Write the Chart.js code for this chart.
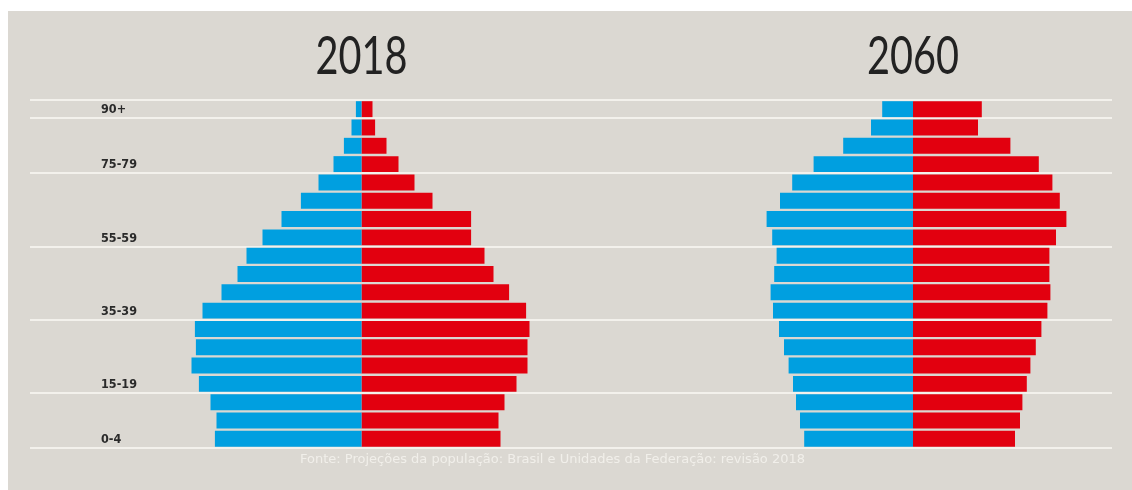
<!DOCTYPE html>
<html>
<head>
<meta charset="utf-8">
<script src="https://cdn.jsdelivr.net/npm/chart.js@4"></script>
<style>
  body { margin: 0; background: #fff; }
  #panel { position: absolute; left: 8px; top: 11px; width: 1124px; height: 479px; background: #dbd8d2; }
</style>
</head>
<body>
<div id="panel"><canvas id="pyramid"></canvas></div>
<script>
// age groups, top to bottom
const ages = ['90+', '85-89', '80-84', '75-79', '70-74', '65-69', '60-64', '55-59', '50-54',
  '45-49', '40-44', '35-39', '30-34', '25-29', '20-24', '15-19', '10-14', '5-9', '0-4'];
const shownAges = ['90+', '75-79', '55-59', '35-39', '15-19', '0-4'];

// population in millions
const men2018 = [0.28, 0.50, 0.88, 1.40, 2.15, 3.03, 4.00, 4.95, 5.75, 6.20, 7.00, 7.95, 8.33, 8.28, 8.50, 8.13, 7.55, 7.25, 7.33];
const women2018 = [0.55, 0.68, 1.25, 1.85, 2.65, 3.55, 5.48, 5.48, 6.15, 6.60, 7.38, 8.23, 8.40, 8.30, 8.30, 7.75, 7.15, 6.85, 6.95];
const men2060 = [1.54, 2.10, 3.49, 4.97, 6.04, 6.65, 7.32, 7.04, 6.82, 6.94, 7.12, 7.00, 6.70, 6.45, 6.22, 6.00, 5.85, 5.65, 5.44];
const women2060 = [3.44, 3.25, 4.87, 6.29, 6.97, 7.34, 7.67, 7.15, 6.82, 6.82, 6.87, 6.72, 6.42, 6.14, 5.87, 5.69, 5.47, 5.35, 5.10];

const years = ['2018', '2060'];
const source = 'Fonte: Projeções da população: Brasil e Unidades da Federação: revisão 2018';

const BLUE = '#009fe0';
const RED = '#e2000f';

// grid lines sit above the first row and below each labelled row
const lineIdx = [0].concat(shownAges.map(a => ages.indexOf(a) + 1));

const barOpts = { grouped: false, categoryPercentage: 1, barPercentage: 0.87, borderWidth: 0 };

// year titles + source line
const textPlugin = {
  id: 'texts',
  afterDraw(chart) {
    const ctx = chart.ctx;
    ctx.save();
    ctx.fillStyle = '#222';
    ctx.font = '400 52px Lato, "DejaVu Sans Condensed", sans-serif';
    ctx.textAlign = 'center';
    ctx.textBaseline = 'alphabetic';
    // condensed look: squeeze the digits to ~92px wide
    years.forEach((yr, i) => {
      const x = chart.scales[i === 0 ? 'x2018' : 'x2060'].getPixelForValue(0);
      const sx = 92 / ctx.measureText(yr).width;
      ctx.save();
      ctx.translate(x, 63);
      ctx.scale(sx, 1);
      ctx.fillText(yr, 0, 0);
      ctx.restore();
    });

    ctx.fillStyle = '#f1efea';
    ctx.font = '13px "DejaVu Sans", sans-serif';
    ctx.textAlign = 'left';
    ctx.textBaseline = 'middle';
    ctx.fillText(source, 292, 449);
    ctx.restore();
  }
};

new Chart(document.getElementById('pyramid'), {
  type: 'bar',
  data: {
    labels: ages,
    datasets: [
      { label: 'Homens 2018', data: men2018.map(v => -v), backgroundColor: BLUE, xAxisID: 'x2018', ...barOpts },
      { label: 'Mulheres 2018', data: women2018, backgroundColor: RED, xAxisID: 'x2018', ...barOpts },
      { label: 'Homens 2060', data: men2060.map(v => -v), backgroundColor: BLUE, xAxisID: 'x2060', ...barOpts },
      { label: 'Mulheres 2060', data: women2060, backgroundColor: RED, xAxisID: 'x2060', ...barOpts }
    ]
  },
  options: {
    indexAxis: 'y',
    responsive: true,
    maintainAspectRatio: false,
    animation: false,
    layout: { padding: { left: 22, right: 20, top: 89, bottom: 42 } },
    plugins: {
      legend: { display: false },
      tooltip: { enabled: false }
    },
    scales: {
      x2018: { type: 'linear', position: 'bottom', display: false, min: -16.575, max: 37.525 },
      x2060: { type: 'linear', position: 'bottom', display: false, min: -44.15, max: 9.95 },
      y: {
        position: 'left',
        border: { display: false },
        grid: {
          offset: true,
          drawTicks: false,
          lineWidth: 2,
          color: ctx => (ctx.index === undefined || lineIdx.includes(ctx.index)) ? '#f3f1ec' : 'rgba(0,0,0,0)'
        },
        ticks: {
          mirror: true,
          padding: 71,
          labelOffset: 1,
          autoSkip: false,
          color: '#2a2a2a',
          font: { family: '"DejaVu Sans Condensed", sans-serif', size: 12.5, weight: 'bold' },
          callback: function (value) {
            const lab = this.getLabelForValue(value);
            return shownAges.includes(lab) ? lab : '';
          }
        },
        afterFit: scale => { scale.width = 0; scale.paddingTop = 0; scale.paddingBottom = 0; }
      }
    }
  },
  plugins: [textPlugin]
});
</script>
</body>
</html>
